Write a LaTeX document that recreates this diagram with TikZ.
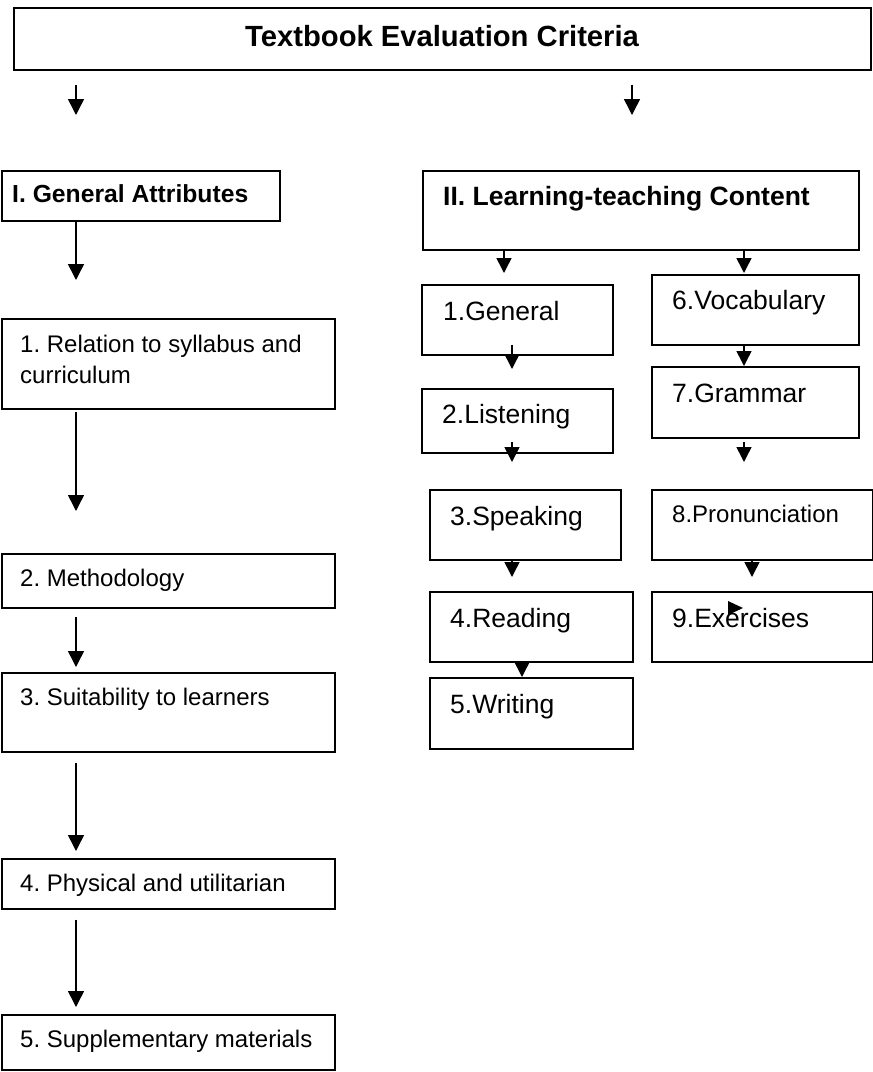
\documentclass[tikz,border=0pt]{standalone}
\usepackage{fontspec}
\setmainfont{Liberation Sans}
\usetikzlibrary{arrows.meta}
\frenchspacing

\begin{document}
\begin{tikzpicture}[
  x=1pt, y=-1pt,
  box/.style={draw=black, line width=1.6pt, inner sep=0pt, anchor=north west},
  txt/.style={inner sep=0pt, anchor=base west, align=left},
  lefttxt/.style={txt, font=\fontsize{24}{31}\selectfont},
  righttxt/.style={txt, font=\fontsize{26.5}{31}\selectfont},
  arr/.style={line width=1.5pt, -{Triangle[width=16pt,length=16pt]}},
  rarr/.style={line width=1.5pt, -{Triangle[width=15pt,length=15pt]}}
]
\useasboundingbox (0,0) rectangle (873,1072);

% title
\node[box, minimum width=857pt, minimum height=62pt] (title) at (13,7) {};
\node[txt, font=\fontsize{29.2}{34}\selectfont\bfseries] (title-t) at (245,46) {Textbook Evaluation Criteria};

% ---- left branch: general attributes ----
\node[box, minimum width=278pt, minimum height=50pt] (ga) at (1,170) {};
\node[txt, font=\fontsize{24.7}{30}\selectfont\bfseries] (ga-t) at (12,202) {I. General Attributes};

\node[box, minimum width=333pt, minimum height=90pt] (l1) at (1,318) {};
\node[lefttxt] (l1-t) at (20,352) {1. Relation to syllabus and};
\node[lefttxt] (l1-u) at (20,383) {curriculum};

\node[box, minimum width=333pt, minimum height=54pt] (l2) at (1,553) {};
\node[lefttxt] (l2-t) at (20,586) {2. Methodology};

\node[box, minimum width=333pt, minimum height=79pt] (l3) at (1,672) {};
\node[lefttxt] (l3-t) at (20,705) {3. Suitability to learners};

\node[box, minimum width=333pt, minimum height=50pt] (l4) at (1,858) {};
\node[lefttxt] (l4-t) at (20,891) {4. Physical and utilitarian};

\node[box, minimum width=333pt, minimum height=55pt] (l5) at (1,1014) {};
\node[lefttxt] (l5-t) at (20,1047) {5. Supplementary materials};

% ---- right branch: learning-teaching content ----
\node[box, minimum width=436pt, minimum height=79pt] (lt) at (422,170) {};
\node[txt, font=\fontsize{26.5}{30}\selectfont\bfseries] (lt-t) at (443,205) {II. Learning-teaching Content};

\node[box, minimum width=191pt, minimum height=70pt] (r1) at (421,284) {};
\node[righttxt] (r1-t) at (443,320) {1.General};

\node[box, minimum width=191pt, minimum height=64pt] (r2) at (421,388) {};
\node[righttxt] (r2-t) at (442,423) {2.Listening};

\node[box, minimum width=191pt, minimum height=70pt] (r3) at (429,489) {};
\node[righttxt] (r3-t) at (450,525) {3.Speaking};

\node[box, minimum width=203pt, minimum height=70pt] (r4) at (429,591) {};
\node[righttxt] (r4-t) at (450,627) {4.Reading};

\node[box, minimum width=203pt, minimum height=71pt] (r5) at (429,677) {};
\node[righttxt] (r5-t) at (450,713) {5.Writing};

\node[box, minimum width=207pt, minimum height=70pt] (r6) at (651,274) {};
\node[righttxt] (r6-t) at (672,309) {6.Vocabulary};

\node[box, minimum width=207pt, minimum height=71pt] (r7) at (651,366) {};
\node[righttxt] (r7-t) at (672,402) {7.Grammar};

\node[box, minimum width=221pt, minimum height=70pt] (r8) at (651,489) {};
\node[txt, font=\fontsize{24}{30}\selectfont] (r8-t) at (672,522) {8.Pronunciation};

\node[box, minimum width=221pt, minimum height=70pt] (r9) at (651,591) {};
\node[righttxt] (r9-t) at (672,627) {9.Exercises};

% stray arrow head over the exercises label
\fill (728,601) -- (743,608) -- (728,615) -- cycle;

% ---- connectors ----
\draw[arr, shorten <=14pt, shorten >=55pt] (title.south -| 76,0) -- (ga.north -| 76,0);
\draw[arr, shorten <=14pt, shorten >=55pt] (title.south -| 632,0) -- (lt.north -| 632,0);

\draw[arr, shorten >=38pt] (ga.south -| 76,0) -- (l1.north -| 76,0);
\draw[arr, shorten <=2pt, shorten >=42pt] (l1.south -| 76,0) -- (l2.north -| 76,0);
\draw[arr, shorten <=8pt, shorten >=5pt] (l2.south -| 76,0) -- (l3.north -| 76,0);
\draw[arr, shorten <=10pt, shorten >=7pt] (l3.south -| 76,0) -- (l4.north -| 76,0);
\draw[arr, shorten <=10pt, shorten >=7pt] (l4.south -| 76,0) -- (l5.north -| 76,0);

\draw[rarr, shorten >=11pt] (lt.south -| 504,0) -- (r1.north -| 504,0);
\draw[rarr, shorten >=1pt] (lt.south -| 744,0) -- (r6.north -| 744,0);

\draw[rarr, shorten >=19pt] (r1.south -| 512,0) ++(0,-11) -- (r2.north -| 512,0);
\draw[rarr, shorten >=27pt] (r2.south -| 512,0) ++(0,-12) -- (r3.north -| 512,0);
\draw[rarr, shorten >=14pt] (r3.south -| 512,0) -- (r4.north -| 512,0);
\draw[rarr] (r4.south -| 522,0) -- (r5.north -| 522,0);

\draw[rarr] (r6.south -| 744,0) -- (r7.north -| 744,0);
\draw[rarr, shorten <=3pt, shorten >=27pt] (r7.south -| 744,0) -- (r8.north -| 744,0);
\draw[rarr, shorten >=14pt] (r8.south -| 752,0) -- (r9.north -| 752,0);
\end{tikzpicture}
\end{document}
